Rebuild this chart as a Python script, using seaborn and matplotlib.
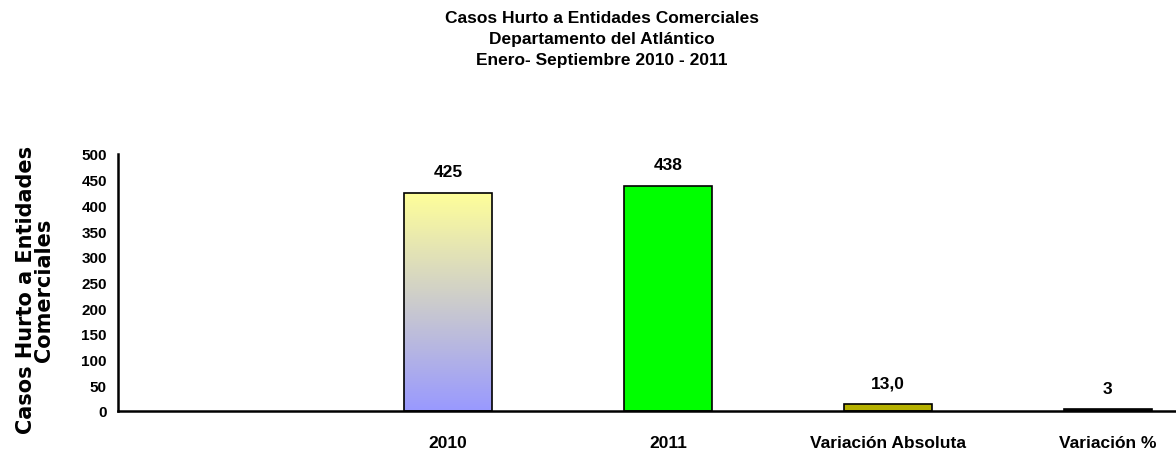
import numpy as np
import pandas as pd
import matplotlib
matplotlib.use("Agg")
import matplotlib.pyplot as plt
import seaborn as sns

# =========================================
# DATA
# =========================================

categories = ['', '2010', '2011', 'Variación Absoluta', 'Variación %']
bar_categories = ['2010', '2011', 'Variación Absoluta', 'Variación %']
values = [425, 438, 13.0, 3]
value_labels = ['425', '438', '13,0', '3']
bar_colors = ['#FFFF99', '#00FF00', '#B5B000', '#1A1A1A']
yticks = [0, 50, 100, 150, 200, 250, 300, 350, 400, 450, 500]

title = ("Casos Hurto a Entidades Comerciales\n"
         "Departamento del Atlántico\n"
         "Enero- Septiembre 2010 - 2011")
ylabel = "Casos Hurto a Entidades\nComerciales"

# =========================================
# STYLE
# =========================================

sns.set_theme(style="white")

plt.rcParams['font.family'] = ['Liberation Sans', 'DejaVu Sans']
plt.rcParams['text.color'] = 'black'
plt.rcParams['axes.labelcolor'] = 'black'
plt.rcParams['xtick.color'] = 'black'
plt.rcParams['ytick.color'] = 'black'

# =========================================
# PLOT
# =========================================

df = pd.DataFrame({'categoria': bar_categories, 'casos': values})

fig = plt.figure(figsize=(11.76, 4.56), dpi=100)
ax = fig.add_axes([118 / 1176, 44 / 456, 1 - 118 / 1176, 257 / 456])

sns.barplot(
    data=df,
    x='categoria',
    y='casos',
    hue='categoria',
    order=categories,
    hue_order=bar_categories,
    palette=dict(zip(bar_categories, bar_colors)),
    saturation=1,
    width=0.4,
    edgecolor='black',
    linewidth=1.2,
    legend=False,
    ax=ax
)

# gradient fill for the 2010 bar (yellow top -> blue bottom)
patches = [p for p in ax.patches if p.get_height() > 0]
p2010 = patches[0]
x0, y0 = p2010.get_x(), p2010.get_y()
w, h = p2010.get_width(), p2010.get_height()
grad = np.linspace(0, 1, 256).reshape(-1, 1)
top = np.array([1.0, 1.0, 0.6])
bottom = np.array([0.6, 0.6, 1.0])
img = (bottom + (top - bottom) * grad).reshape(256, 1, 3)
im = ax.imshow(img, extent=[x0, x0 + w, y0, y0 + h], origin='lower',
               aspect='auto', zorder=p2010.get_zorder() - 0.1)
im.set_clip_path(p2010)
p2010.set_facecolor('none')

for p, lab in zip(patches, value_labels):
    ax.annotate(lab, (p.get_x() + p.get_width() / 2, p.get_height()),
                xytext=(0, 10), textcoords='offset points',
                ha='center', va='bottom', fontsize=12.5, fontweight='bold')

ax.set_xlim(-0.5, 4.31)
ax.set_ylim(0, 500)
ax.set_yticks(yticks)
ax.set_yticklabels([str(t) for t in yticks], fontsize=11, fontweight='bold')
ax.set_xticks(range(len(categories)))
ax.set_xticklabels(categories, fontsize=12.5, fontweight='bold')
ax.set_xticks(np.arange(-0.5, 4.0, 1.0), minor=True)
ax.tick_params(axis='x', which='major', length=0, pad=17)
ax.tick_params(axis='x', which='minor', length=5, width=1.2, direction='out')
ax.tick_params(axis='y', length=5, width=1.2, direction='out', pad=3)

ax.set_xlabel('')
ax.set_ylabel(ylabel, fontsize=15, fontweight='bold', family='DejaVu Sans',
              linespacing=0.86)
ax.yaxis.set_label_coords((54 - 118) / 1058, (412 - 290) / 257)

sns.despine(ax=ax, top=True, right=True)
for s in ['left', 'bottom']:
    ax.spines[s].set_color('black')
    ax.spines[s].set_linewidth(1.8)

fig.text(602 / 1176, 1 - 11 / 456, title, ha='center', va='top',
         fontsize=12.5, fontweight='bold', linespacing=1.5)

fig.savefig('out.png', dpi=100, facecolor='white')
